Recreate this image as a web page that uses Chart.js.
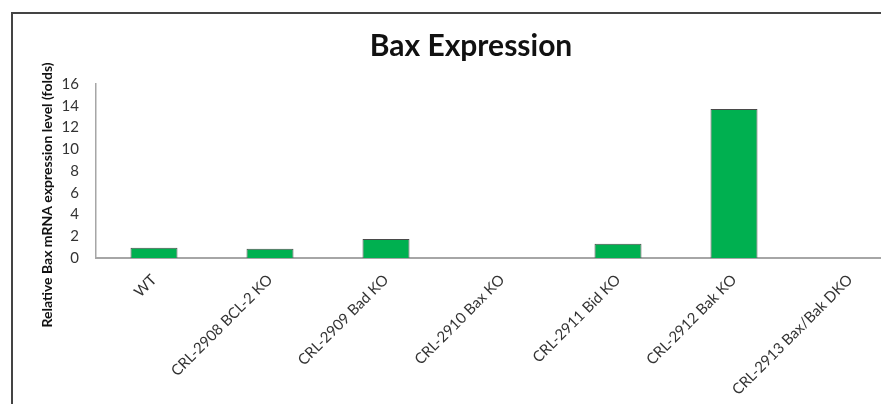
<!DOCTYPE html>
<html>
<head>
<meta charset="utf-8">
<script src="https://cdn.jsdelivr.net/npm/chart.js@4"></script>
<style>
  html, body { margin: 0; padding: 0; background: #fff; overflow: hidden; width: 881px; height: 404px; }
  #cadre { position: absolute; left: 11px; top: 12px; width: 900px; height: 420px; border: 2px solid #444; }
  #cadre canvas { display: block; }
</style>
</head>
<body>
<div id="cadre"><canvas id="baxChart" width="900" height="420"></canvas></div>
<script>
// Données
const lignees = ["WT", "CRL-2908 BCL-2 KO", "CRL-2909 Bad KO", "CRL-2910 Bax KO",
                 "CRL-2911 Bid KO", "CRL-2912 Bak KO", "CRL-2913 Bax/Bak DKO"];
const expressionBax = [0.95, 0.86, 1.75, 0, 1.3, 13.7, 0];
const graduationsY = [0, 2, 4, 6, 8, 10, 12, 14, 16];
const titreAxeY = "Relative Bax mRNA expression level (folds)";

const police = "Lato, 'Open Sans', sans-serif";

// Titre de l'axe Y, décalé vers le bas comme dans Excel
const titreY = {
    id: "titreY",
    afterDraw(chart) {
        const ctx = chart.ctx;
        ctx.save();
        ctx.translate(34, 181);
        ctx.rotate(-Math.PI / 2);
        ctx.font = "bold 14px " + police;
        ctx.fillStyle = "#111";
        ctx.textAlign = "center";
        ctx.textBaseline = "middle";
        ctx.fillText(titreAxeY, 0, 0);
        ctx.restore();
    }
};

new Chart(document.getElementById("baxChart"), {
    type: "bar",
    data: {
        labels: lignees,
        datasets: [{
            label: "Bax",
            data: expressionBax,
            backgroundColor: "#00b050",
            borderColor: "#4a4a4a",
            borderWidth: 1,
            borderSkipped: "bottom",
            categoryPercentage: 1,
            barPercentage: 0.405
        }]
    },
    plugins: [titreY],
    options: {
        responsive: false,
        animation: false,
        layout: { padding: { left: 21, right: 5, top: 0, bottom: 0 } },
        plugins: {
            legend: { display: false },
            tooltip: { enabled: false },
            title: {
                display: true,
                text: "Bax Expression",
                color: "#111",
                font: { family: police, size: 30, weight: "bold", lineHeight: 1.2 },
                padding: { top: 14, bottom: 20 }
            }
        },
        scales: {
            x: {
                grid: { display: false, drawTicks: false },
                border: { display: true, color: "#a6a6a6", width: 2 },
                ticks: {
                    color: "#333",
                    font: { family: police, size: 15 },
                    minRotation: 45,
                    maxRotation: 45,
                    autoSkip: false,
                    padding: 13
                },
                afterFit: s => { s.height = 420 - 244; }
            },
            y: {
                min: 0,
                max: 16,
                afterBuildTicks: s => { s.ticks = graduationsY.map(v => ({ value: v })); },
                grid: { display: false, drawTicks: false },
                border: { display: true, color: "#a6a6a6", width: 1.5 },
                ticks: {
                    color: "#333",
                    font: { family: police, size: 15 },
                    padding: 17
                },
                afterFit: s => { s.width = 83 - 21; }
            }
        }
    }
});
</script>
</body>
</html>
